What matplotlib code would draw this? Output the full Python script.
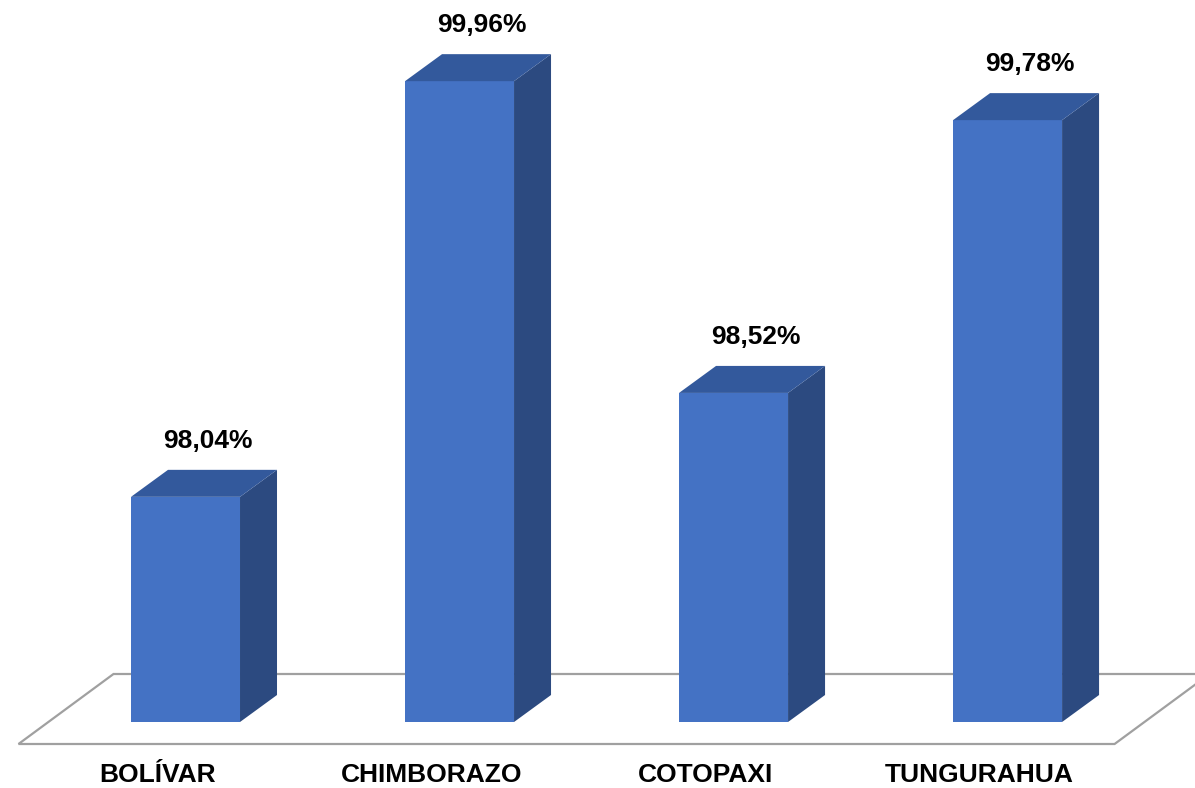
import matplotlib
matplotlib.use('Agg')
import matplotlib.pyplot as plt
from matplotlib.patches import Polygon

provincias = ['BOLÍVAR', 'CHIMBORAZO', 'COTOPAXI', 'TUNGURAHUA']
porcentajes = [98.04, 99.96, 98.52, 99.78]

base = 97.0
front = '#4472C4'
side = '#2C4A80'
top = '#33599C'
floor_col = '#A0A0A0'

plt.rcParams['font.family'] = ['Liberation Sans', 'DejaVu Sans']

fig = plt.figure(figsize=(11.95, 7.88), dpi=100)
ax = fig.add_axes([0, 66 / 788, 1, 722 / 788])
ax.set_xlim(-0.677, 3.684)
ax.set_ylim(base, base + 722 / 216.5)
ax.axis('off')

# pixel offsets -> data units
sx = 1195 / (3.684 + 0.677)
sy = 216.5
def px(dx, dy):
    return dx / sx, dy / sy

ddx, ddy = px(37, 27)
w = 109 / sx
xs = list(range(len(provincias)))

# floor of the 3d chart
fx0, fy0 = px(-30, -22)
fx1, fy1 = px(65, 48)
piso = [(-0.5 + fx0, base + fy0), (3.5 + fx0, base + fy0),
        (3.5 + fx1, base + fy1), (-0.5 + fx1, base + fy1)]
ax.add_patch(Polygon(piso, closed=True, facecolor='white', edgecolor=floor_col,
                     linewidth=1.6, zorder=1, clip_on=False))

# front faces
ax.bar(xs, [v - base for v in porcentajes], bottom=base, width=w,
       color=front, zorder=3)

for x, v in zip(xs, porcentajes):
    r = x + w / 2
    l = x - w / 2
    lado = [(r, base), (r + ddx, base + ddy), (r + ddx, v + ddy), (r, v)]
    tapa = [(l, v), (r, v), (r + ddx, v + ddy), (l + ddx, v + ddy)]
    ax.add_patch(Polygon(lado, closed=True, facecolor=side, edgecolor='none', zorder=2))
    ax.add_patch(Polygon(tapa, closed=True, facecolor=top, edgecolor='none', zorder=3))
    ox, oy = px(22, 56)
    ax.text(x + ox, v + oy, f'{v:.2f}'.replace('.', ',') + '%', ha='center', va='center',
            fontsize=19, fontweight='bold', color='black')

lx, ly = px(-28, -53)
for x, nombre in zip(xs, provincias):
    ax.text(x + lx, base + ly, nombre, ha='center', va='center',
            fontsize=19, fontweight='bold', color='black', clip_on=False)

fig.savefig('out.png', dpi=100)
